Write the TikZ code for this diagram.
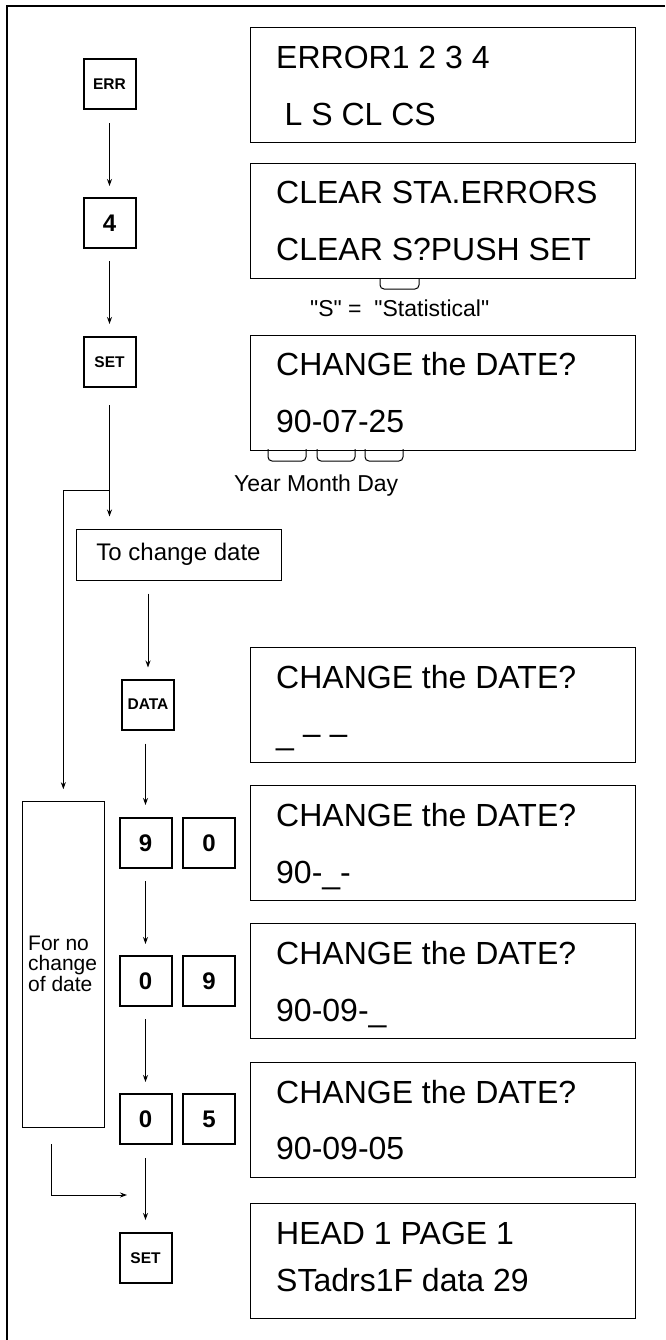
\documentclass[tikz,border=0pt]{standalone}
\usepackage{fontspec}
\setmainfont{Liberation Sans}
\newfontfamily\rawfont{Liberation Sans}[Ligatures=TeXOff]
\usetikzlibrary{arrows.meta}
\begin{document}
\begin{tikzpicture}[x=1pt,y=-1pt,
  key/.style={draw,line width=2pt,minimum width=52pt,minimum height=50pt,inner sep=0pt,font=\fontsize{15.5}{18}\selectfont\bfseries},
  digit/.style={key,font=\fontsize{24}{28}\selectfont\bfseries},
  disp/.style={draw,line width=1.2pt,minimum width=385pt,minimum height=115pt,inner sep=0pt,anchor=north west},
  dtext/.style={anchor=base west,inner sep=0pt,font=\fontsize{32}{38}\selectfont},
  lbl/.style={anchor=base west,inner sep=0pt,font=\fontsize{23}{27}\selectfont},
  plainbox/.style={draw,line width=1pt,inner sep=0pt},
  conn/.style={line width=1pt,-{Stealth[length=7pt,width=5pt]}},
  bump/.style={line width=1pt,rounded corners=4pt}]
\useasboundingbox (0,0) rectangle (665,1340);
% frame
\draw[line width=2pt] (6.5,1340) -- (6.5,6.5) -- (665,6.5);
% display boxes
\node[disp] (d1) at (250,27.3) {};
\node[disp] (d2) at (250,162.7) {};
\node[disp] (d3) at (250,334.7) {};
\node[disp] (d4) at (250,647) {};
\node[disp] (d5) at (250,785) {};
\node[disp] (d6) at (250,923) {};
\node[disp] (d7) at (250,1062) {};
\node[disp] (d8) at (250,1203) {};
% display texts
\node[dtext] (t1a) at (276,68.3) {ERROR1 2 3 4};
\node[dtext] (t1b) at (284.5,125.3) {L S CL CS};
\node[dtext] (t2a) at (276,203.7) {CLEAR STA.ERRORS};
\node[dtext] (t2b) at (276,260.7) {CLEAR S?PUSH SET};
\node[dtext] (t3a) at (276,375.7) {CHANGE the DATE?};
\node[dtext] (t3b) at (276,432.7) {90-07-25};
\node[dtext] (t4a) at (276,688) {CHANGE the DATE?};
\node[dtext] (t4b) at (276,744) {\_ -- --};
\node[dtext] (t5a) at (276,826) {CHANGE the DATE?};
\node[dtext] (t5b) at (276,883) {90-\_-};
\node[dtext] (t6a) at (276,964) {CHANGE the DATE?};
\node[dtext] (t6b) at (276,1021) {90-09-\_};
\node[dtext] (t7a) at (276,1103) {CHANGE the DATE?};
\node[dtext] (t7b) at (276,1159) {90-09-05};
\node[dtext] (t8a) at (276,1244) {HEAD 1 PAGE 1};
\node[dtext] (t8b) at (276,1291.7) {STadrs1F data 29};
% bumps and labels
\draw[bump] (380,278) -- (380,289) -- (419,289) -- (419,278);
\draw[bump] (268,449) -- (268,461) -- (306,461) -- (306,449);
\draw[bump] (317,449) -- (317,461) -- (355,461) -- (355,449);
\draw[bump] (365,449) -- (365,461) -- (403,461) -- (403,449);
\node[lbl,font=\fontsize{23}{27}\selectfont\rawfont] (slbl) at (310,316.7) {"S" =\ \ "Statistical"};
\node[lbl] (ymd) at (234,491.7) {Year Month Day};
% keys
\node[key] (k1) at (109.5,84.5) {ERR};
\node[digit] (k2) at (109.5,223) {4};
\node[key] (k3) at (109.5,362) {SET};
\node[key] (k4) at (148,704.5) {DATA};
\node[digit] (k5) at (145.5,843) {9};
\node[digit] (k6) at (209,843) {0};
\node[digit] (k7) at (145.5,981) {0};
\node[digit] (k8) at (209,981) {9};
\node[digit] (k9) at (145.5,1119) {0};
\node[digit] (k10) at (209,1119) {5};
\node[key] (k11) at (145.5,1258) {SET};
% side boxes
\node[plainbox,minimum width=205pt,minimum height=51pt,font=\fontsize{24}{28}\selectfont] (tc) at (178.5,554.5) {To change date};
\node[plainbox,minimum width=81.3pt,minimum height=325.3pt] (nc) at (63.35,964.35) {};
\node[anchor=north west,inner sep=0pt,align=left,font=\fontsize{21}{20.5}\selectfont] (nct) at (28,935.5) {For no\\change\\of date};
% connectors
\draw[conn,shorten <=13pt,shorten >=11pt] (k1) -- (k2);
\draw[conn,shorten <=12pt,shorten >=12pt] (k2) -- (k3);
\draw[conn,shorten <=17pt,shorten >=12pt] (k3.south) -- (k3.south |- tc.north);
\coordinate (br) at (109.5,490.7);
\draw[conn,shorten >=12pt] (br) -| (nc.north);
\draw[conn,shorten <=13pt,shorten >=11pt] (k4.north |- tc.south) -- (k4.north);
\draw[conn,shorten <=13pt,shorten >=12pt] (k5.north |- k4.south) -- (k5.north);
\draw[conn,shorten <=12pt,shorten >=11pt] (k5) -- (k7);
\draw[conn,shorten <=12pt,shorten >=11pt] (k7) -- (k9);
\draw[conn,shorten <=13pt,shorten >=12pt] (k9) -- (k11);
\coordinate (ncs) at (51,1144);
\coordinate (jn) at (127,1195);
\draw[conn] (ncs) |- (jn);
\end{tikzpicture}
\end{document}
